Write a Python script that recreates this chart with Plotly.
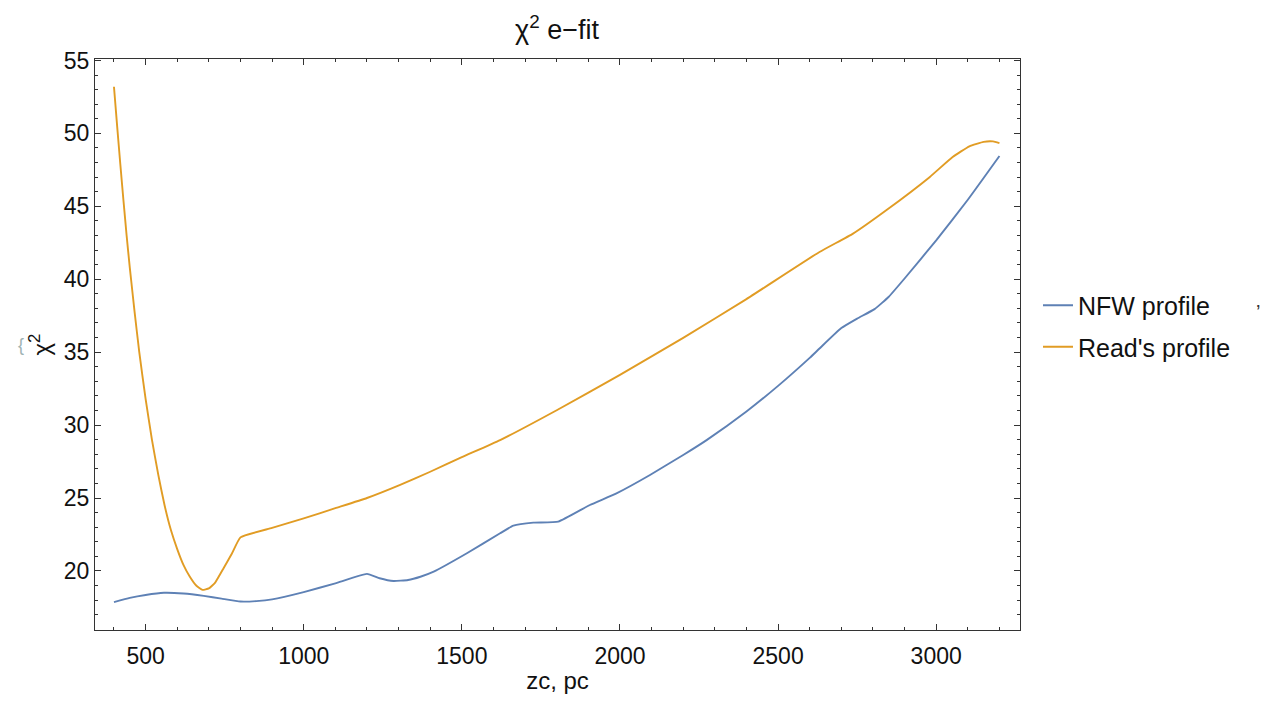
import plotly.graph_objects as go

# ---- data ----
zc_nfw = [400, 450, 500, 558, 620, 684, 740, 800, 850, 900, 1000, 1100, 1200,
          1240, 1284, 1330, 1369, 1411, 1516, 1621, 1663, 1726, 1805, 1905,
          1989, 2095, 2200, 2274, 2400, 2500, 2600, 2631, 2700, 2750, 2805,
          2850, 2900, 3000, 3100, 3200]
chi2_nfw = [17.86, 18.15, 18.35, 18.5, 18.45, 18.29, 18.1, 17.9, 17.93, 18.05,
            18.55, 19.15, 19.8, 19.5, 19.31, 19.38, 19.6, 19.95, 21.21, 22.58,
            23.1, 23.31, 23.38, 24.52, 25.32, 26.58, 27.95, 28.97, 30.93, 32.69,
            34.61, 35.25, 36.65, 37.3, 37.95, 38.8, 40.05, 42.67, 45.45, 48.45]

zc_read = [400, 410, 420, 430, 440, 450, 465, 480, 500, 520, 540, 560, 580,
           600, 620, 640, 660, 680, 700, 720, 747, 773, 800, 900, 1000, 1100,
           1200, 1305, 1400, 1500, 1621, 1800, 2000, 2200, 2400, 2631, 2737,
           2842, 2979, 3052, 3105, 3150, 3180, 3200]
chi2_read = [53.2, 50.5, 47.9, 45.4, 43.0, 40.8, 37.8, 35.0, 31.8, 29.0, 26.6,
             24.5, 22.8, 21.5, 20.4, 19.6, 19.0, 18.7, 18.8, 19.2, 20.2, 21.2,
             22.3, 22.95, 23.6, 24.3, 25.0, 25.9, 26.8, 27.8, 28.97, 31.02,
             33.44, 35.98, 38.64, 41.87, 43.13, 44.73, 47.0, 48.38, 49.11,
             49.42, 49.45, 49.33]

series_names = ["NFW profile", "Read's profile"]
series_colors = ["#5E81B5", "#E19C24"]

# The page body has an 8px margin, so the figure is 8px smaller than the window.
OFF = 8
W, H = 1281 - OFF, 702 - OFF
# plot frame in page pixels: x 95..1020, y 59..630
PX0, PX1, PY0, PY1 = 95, 1020, 59, 630
ML, MR, MT, MB = PX0 - OFF, W - (PX1 - OFF), PY0 - OFF, H - (PY1 - OFF)
PW, PH = PX1 - PX0, PY1 - PY0
FONT = "Liberation Sans, Arial, sans-serif"
AXC = "#333333"
TXT = "#111111"

fig = go.Figure()
fig.add_trace(go.Scatter(x=zc_nfw, y=chi2_nfw, mode="lines", name=series_names[0],
                         legendgroup="a",
                         line=dict(color=series_colors[0], width=1.9,
                                   shape="spline", smoothing=0.4)))
fig.add_trace(go.Scatter(x=zc_read, y=chi2_read, mode="lines", name=series_names[1],
                         legendgroup="b",
                         line=dict(color=series_colors[1], width=1.9,
                                   shape="spline", smoothing=0.4)))

axis_common = dict(
    showline=True, linecolor=AXC, linewidth=1, mirror="ticks",
    ticks="inside", ticklen=6, tickwidth=1, tickcolor=AXC,
    showgrid=False, zeroline=False,
    tickfont=dict(family=FONT, size=23, color=TXT),
)

fig.update_xaxes(
    range=[340, 3265], tick0=0, dtick=500, ticklabelstandoff=5,
    minor=dict(dtick=100, ticks="inside", ticklen=3, tickcolor=AXC, showgrid=False),
    title=dict(text="zc, pc", font=dict(family=FONT, size=24, color=TXT), standoff=4),
    **axis_common,
)
fig.update_yaxes(
    range=[15.95, 55.1], tick0=0, dtick=5,
    minor=dict(dtick=1, ticks="inside", ticklen=3, tickcolor=AXC, showgrid=False),
    title=dict(text="χ<sup>2</sup>", font=dict(family=FONT, size=24, color=TXT), standoff=6),
    **axis_common,
)

fig.update_layout(
    width=W, height=H,
    margin=dict(l=ML, r=MR, t=MT, b=MB, autoexpand=False),
    paper_bgcolor="white", plot_bgcolor="white",
    title=dict(text="χ<sup>2</sup> e−fit", x=(557 - OFF) / W, xanchor="center",
               y=1 - (30 - OFF) / H, yanchor="middle",
               font=dict(family=FONT, size=27, color=TXT)),
    legend=dict(x=(1038 - PX0) / PW, y=(PY1 - 326) / PH, xanchor="left", yanchor="middle",
                font=dict(family=FONT, size=25, color=TXT),
                bgcolor="rgba(0,0,0,0)", itemwidth=30, tracegroupgap=6),
    showlegend=True,
)

# small stray marks present in the reference image
fig.add_annotation(x=(1262 - PX0) / PW, y=(PY1 - 312) / PH, xref="paper", yref="paper",
                   text="’", showarrow=False, font=dict(family=FONT, size=20, color="#333"))
fig.add_annotation(x=(16 - PX0) / PW, y=(PY1 - 345) / PH, xref="paper", yref="paper",
                   text="{", showarrow=False, font=dict(family=FONT, size=18, color="#9fb3b3"))

fig.write_html("out.html")
